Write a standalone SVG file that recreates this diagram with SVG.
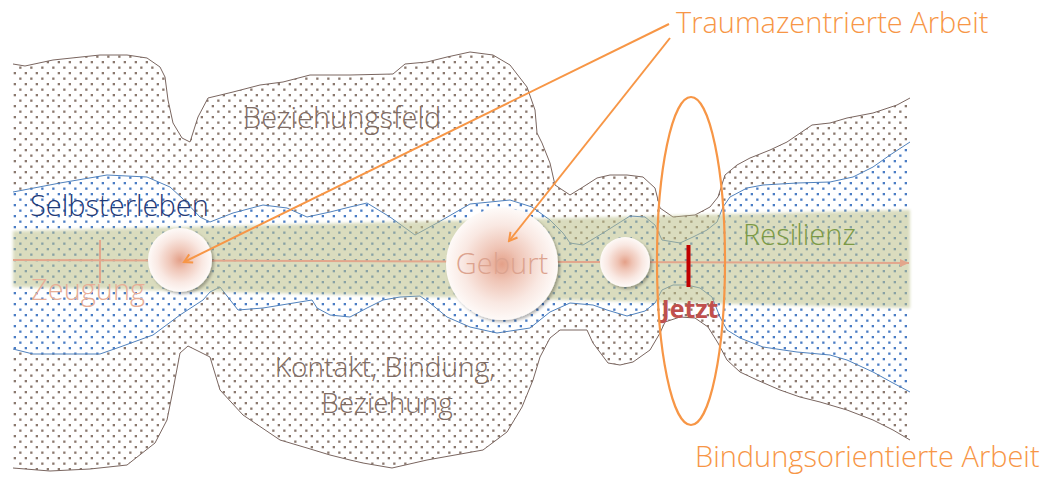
<svg xmlns="http://www.w3.org/2000/svg" width="1050" height="477" viewBox="0 0 1050 477">
<style>
.lbl{font-family:"Open Sans","Liberation Sans",sans-serif;font-size:29px;font-weight:300}
.brownTxt{fill:#7f6c64}
.orangeTxt{fill:#f79646}
.fillBrown{fill:url(#dotsBrown);stroke:none}
.fillBlue{fill:url(#dotsBlue);stroke:none}
.edgeBrown{stroke:#7a6660;stroke-width:1;fill:none}
.edgeBlue{stroke:#4f81bd;stroke-width:1;fill:none}
.conn{stroke:#f79646;stroke-width:2;fill:none;marker-end:url(#openArrow)}
.ball{fill:url(#ballGrad);filter:url(#shadow)}
</style>
<defs>
<pattern id="dotsBrown" width="11" height="11" patternUnits="userSpaceOnUse">
<rect width="11" height="11" fill="#ffffff"/>
<rect x="2.7" y="6" width="2.3" height="2.3" fill="#8a786e"/>
<rect x="8.2" y="0.5" width="2.3" height="2.3" fill="#8a786e"/>
</pattern>
<pattern id="dotsBlue" width="11" height="11" patternUnits="userSpaceOnUse">
<rect width="11" height="11" fill="#ffffff"/>
<rect x="2.7" y="6" width="2.3" height="2.3" fill="#4a7cc4"/>
<rect x="8.2" y="0.5" width="2.3" height="2.3" fill="#4a7cc4"/>
</pattern>
<radialGradient id="ballGrad" cx="0.5" cy="0.5" r="0.5">
<stop offset="0" stop-color="#e4a088"/>
<stop offset="0.3" stop-color="#efc4b5"/>
<stop offset="0.7" stop-color="#f9e8e2"/>
<stop offset="1" stop-color="#fefaf8"/>
</radialGradient>
<filter id="shadow" x="-20%" y="-20%" width="150%" height="150%">
<feDropShadow dx="2" dy="2" stdDeviation="1.5" flood-color="#000000" flood-opacity="0.3"/>
</filter>
<filter id="soft" x="-5%" y="-20%" width="110%" height="140%">
<feGaussianBlur stdDeviation="1.6"/>
</filter>
<marker id="openArrow" markerWidth="12" markerHeight="12" refX="10" refY="6" orient="auto" markerUnits="userSpaceOnUse">
<path d="M2,1.5 L10,6 L2,10.5" fill="none" stroke="#f79646" stroke-width="2"/>
</marker>
<marker id="axisArrow" markerWidth="12" markerHeight="12" refX="10" refY="6" orient="auto" markerUnits="userSpaceOnUse">
<path d="M1,2 L10,6 L1,10 Z" fill="#e3a68c"/>
</marker>
</defs>

<g id="beziehungsfeld">
<path class="fillBrown" d="M13,64 L25,66 L53,60 L100,55 L127,55 L147,58 L160,67 L165,77 L168,100 L173,123 L182,138 L190,142 L198,117 L208,98 L233,92 L260,85 L283,82 L310,75 L350,75 L393,74 L405,64 L427,62 L447,57 L470,52 L493,55 L510,65 L527,87 L535,110 L537,133 L542,143 L550,163 L555,185 L570,195 L583,187 L597,178 L610,175 L627,175 L643,177 L655,188 L660,208 L673,217 L695,215 L710,207 L718,197 L725,175 L737,165 L750,158 L770,150 L787,142 L812,125 L830,123 L847,118 L873,113 L897,105 L910,98 L910,440 L893,430 L873,420 L847,410 L820,402 L800,397 L780,390 L757,380 L740,372 L727,360 L718,343 L708,327 L695,318 L680,317 L665,322 L660,333 L650,350 L633,362 L620,365 L608,363 L593,343 L587,330 L560,330 L550,338 L540,357 L533,380 L522,407 L507,432 L483,450 L427,460 L392,468 L363,463 L350,460 L330,455 L307,448 L280,440 L243,415 L220,390 L210,357 L188,346 L180,353 L173,390 L167,420 L155,443 L127,465 L90,469 L50,471 L13,468 Z"/>
<path class="edgeBrown" d="M13,64 L25,66 L53,60 L100,55 L127,55 L147,58 L160,67 L165,77 L168,100 L173,123 L182,138 L190,142 L198,117 L208,98 L233,92 L260,85 L283,82 L310,75 L350,75 L393,74 L405,64 L427,62 L447,57 L470,52 L493,55 L510,65 L527,87 L535,110 L537,133 L542,143 L550,163 L555,185 L570,195 L583,187 L597,178 L610,175 L627,175 L643,177 L655,188 L660,208 L673,217 L695,215 L710,207 L718,197 L725,175 L737,165 L750,158 L770,150 L787,142 L812,125 L830,123 L847,118 L873,113 L897,105 L910,98"/>
<path class="edgeBrown" d="M910,440 L893,430 L873,420 L847,410 L820,402 L800,397 L780,390 L757,380 L740,372 L727,360 L718,343 L708,327 L695,318 L680,317 L665,322 L660,333 L650,350 L633,362 L620,365 L608,363 L593,343 L587,330 L560,330 L550,338 L540,357 L533,380 L522,407 L507,432 L483,450 L427,460 L392,468 L363,463 L350,460 L330,455 L307,448 L280,440 L243,415 L220,390 L210,357 L188,346 L180,353 L173,390 L167,420 L155,443 L127,465 L90,469 L50,471 L13,468"/>
<text class="lbl brownTxt" x="243" y="128">Beziehungsfeld</text>
</g>

<g id="selbsterleben">
<path class="fillBlue" d="M13,192 L60,183 L107,175 L147,177 L170,187 L182,198 L200,217 L210,222 L233,213 L263,205 L287,208 L307,217 L330,212 L350,207 L367,203 L390,217 L415,235 L437,223 L470,204 L510,200 L532,207 L550,220 L563,233 L570,243 L583,245 L603,233 L630,216 L645,217 L655,225 L662,240 L680,243 L693,237 L707,230 L717,222 L723,207 L730,197 L747,188 L763,185 L797,183 L830,182 L853,177 L873,167 L890,155 L910,142 L910,392 L893,383 L873,372 L847,360 L830,355 L797,352 L763,347 L740,338 L727,330 L720,317 L712,297 L700,288 L687,285 L673,285 L662,290 L655,303 L645,311 L627,316 L607,310 L593,305 L570,303 L550,312 L530,328 L497,333 L470,327 L447,317 L430,303 L420,296 L400,297 L383,300 L367,308 L350,317 L330,315 L317,308 L312,300 L263,308 L238,310 L220,287 L210,292 L203,300 L180,315 L153,335 L120,347 L100,354 L33,354 L13,349 Z"/>
<path class="edgeBlue" d="M13,192 L60,183 L107,175 L147,177 L170,187 L182,198 L200,217 L210,222 L233,213 L263,205 L287,208 L307,217 L330,212 L350,207 L367,203 L390,217 L415,235 L437,223 L470,204 L510,200 L532,207 L550,220 L563,233 L570,243 L583,245 L603,233 L630,216 L645,217 L655,225 L662,240 L680,243 L693,237 L707,230 L717,222 L723,207 L730,197 L747,188 L763,185 L797,183 L830,182 L853,177 L873,167 L890,155 L910,142"/>
<path class="edgeBlue" d="M910,392 L893,383 L873,372 L847,360 L830,355 L797,352 L763,347 L740,338 L727,330 L720,317 L712,297 L700,288 L687,285 L673,285 L662,290 L655,303 L645,311 L627,316 L607,310 L593,305 L570,303 L550,312 L530,328 L497,333 L470,327 L447,317 L430,303 L420,296 L400,297 L383,300 L367,308 L350,317 L330,315 L317,308 L312,300 L263,308 L238,310 L220,287 L210,292 L203,300 L180,315 L153,335 L120,347 L100,354 L33,354 L13,349"/>
<text class="lbl" x="30" y="216" fill="#1f3a78">Selbsterleben</text>
</g>

<g id="resilienz">
<path d="M13,231 L910,210 L910,308 L13,287 Z" fill="#bcc08a" opacity="0.55" filter="url(#soft)"/>
<text class="lbl" x="743" y="245" fill="#7c9a45">Resilienz</text>
</g>

<g id="zeugung">
<text class="lbl" x="31" y="300" fill="#e8ad96">Zeugung</text>
</g>

<g id="kontakt">
<text class="lbl brownTxt" x="385" y="377" text-anchor="middle" style="font-size:28px">Kontakt, Bindung,</text>
<text class="lbl brownTxt" x="387" y="413" text-anchor="middle" style="font-size:28px">Beziehung</text>
</g>

<g id="zeitachse">
<line x1="13" y1="260" x2="909" y2="263" stroke="#e3a68c" stroke-width="2" marker-end="url(#axisArrow)"/>
<line x1="100" y1="240" x2="100" y2="283" stroke="#e3a68c" stroke-width="2"/>
</g>

<g id="kreis-zeugung">
<circle class="ball" cx="180" cy="260" r="32"/>
</g>

<g id="geburt">
<circle class="ball" cx="502" cy="264" r="56"/>
<text class="lbl" x="502" y="274" text-anchor="middle" fill="#dca38f">Geburt</text>
</g>

<g id="kreis-3">
<circle class="ball" cx="625" cy="262" r="25"/>
</g>

<g id="jetzt">
<rect x="686.5" y="245" width="4" height="42" fill="#c00000"/>
<text x="690" y="318" text-anchor="middle" font-family="'Open Sans','Liberation Sans',sans-serif" font-size="25" font-weight="700" fill="#c0504d">Jetzt</text>
</g>

<g id="bindungsorientierte-arbeit">
<ellipse cx="691" cy="261" rx="34" ry="164" fill="none" stroke="#f79646" stroke-width="2.2"/>
<text class="lbl orangeTxt" x="695" y="467">Bindungsorientierte Arbeit</text>
</g>

<g id="traumazentrierte-arbeit">
<text class="lbl orangeTxt" x="676" y="33">Traumazentrierte Arbeit</text>
</g>

<g id="connectors">
<line class="conn" x1="669" y1="24" x2="184" y2="262"/>
<line class="conn" x1="670" y1="38" x2="509" y2="241"/>
</g>
</svg>
